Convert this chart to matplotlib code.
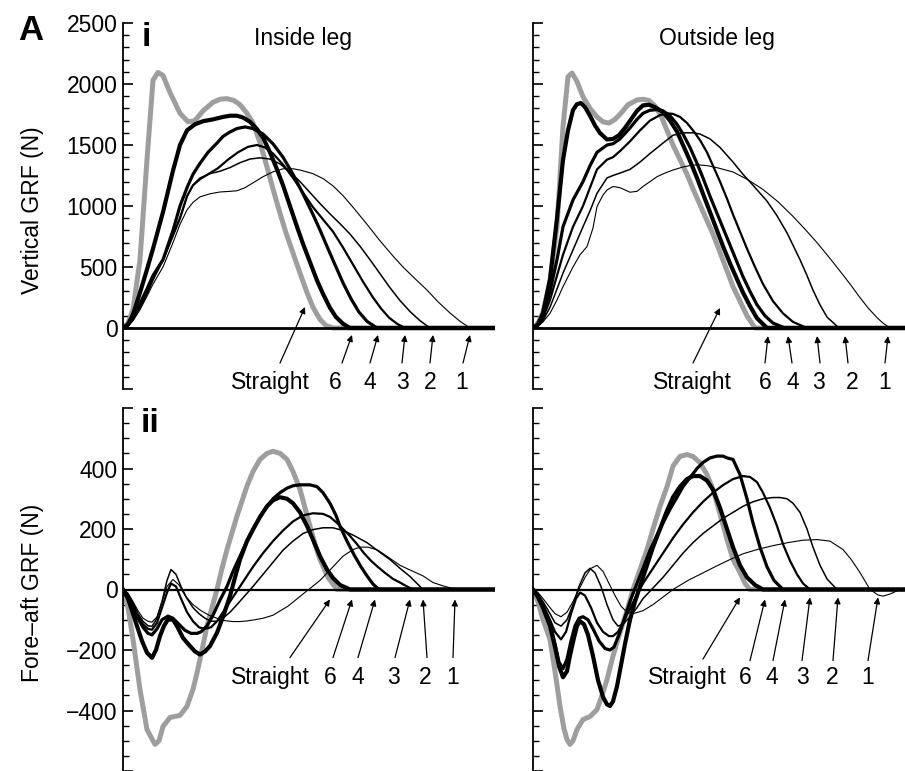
import matplotlib
matplotlib.use("Agg")
import matplotlib.pyplot as plt
from matplotlib.ticker import MultipleLocator, FixedLocator, FixedFormatter

plt.rcParams['font.family'] = ['Liberation Sans', 'DejaVu Sans']

CONDITIONS = ['Straight', '6', '4', '3', '2', '1']

# ---------------- Inside leg, vertical GRF (N) ----------------
t_in_v_straight = [0,5,10,17,24,30,35,40,47,57,65,72,80,90,97,104,111,117,124,130,137,144,150,157,163,170,177,184,190,197,203,210,372]
f_in_v_straight = [0,40,150,560,1380,2030,2095,2070,1930,1760,1690,1700,1780,1850,1875,1880,1865,1830,1760,1680,1520,1320,1140,940,780,615,450,290,170,70,20,0,0]
t_in_v_6 = [0,5,10,17,24,30,40,50,57,64,72,80,90,100,107,114,120,127,134,140,147,154,160,167,174,180,187,194,200,207,213,220,227,372]
f_in_v_6 = [0,30,110,290,480,650,950,1290,1500,1620,1670,1695,1710,1730,1740,1740,1725,1690,1630,1560,1440,1300,1170,1000,830,690,540,390,280,165,90,35,0,0]
t_in_v_4 = [0,5,10,17,24,30,40,50,57,64,70,77,85,94,100,107,114,122,130,140,150,160,170,180,190,197,205,213,220,228,236,244,254,372]
f_in_v_4 = [0,25,90,200,320,430,560,800,1000,1150,1260,1350,1440,1516,1570,1607,1635,1648,1635,1590,1510,1400,1260,1100,930,803,650,500,370,240,130,55,0,0]
t_in_v_3 = [0,5,10,17,24,30,40,50,57,64,70,77,85,95,105,115,125,134,142,150,160,170,180,190,200,210,220,230,240,250,258,266,274,282,372]
f_in_v_3 = [0,20,70,170,285,400,560,760,900,1080,1170,1220,1260,1310,1380,1440,1485,1500,1480,1430,1340,1230,1110,990,890,790,660,520,380,250,160,85,35,0,0]
t_in_v_2 = [0,5,10,17,24,30,40,50,57,64,70,77,87,97,107,117,127,137,147,157,167,177,187,197,207,217,227,237,247,257,267,277,287,297,307,372]
f_in_v_2 = [0,20,70,170,285,400,560,760,900,1080,1170,1230,1265,1285,1315,1355,1385,1395,1385,1345,1280,1200,1110,1020,935,855,770,670,560,445,330,225,135,60,0,0]
t_in_v_1 = [0,5,10,17,24,30,40,50,57,64,70,77,87,97,107,114,122,130,140,150,160,170,177,190,200,210,220,230,244,257,270,280,290,304,315,327,337,347,372]
f_in_v_1 = [0,15,60,150,260,360,500,700,850,967,1030,1075,1100,1115,1120,1125,1150,1190,1240,1280,1305,1305,1295,1265,1225,1165,1085,990,850,715,590,500,420,311,215,123,55,0,0]

# ---------------- Outside leg, vertical GRF (N) ----------------
t_out_v_straight = [0,5,10,17,24,30,35,39,44,50,57,64,70,76,82,88,95,104,110,116,122,128,134,140,147,154,160,167,174,180,187,194,200,207,214,222,372]
f_out_v_straight = [0,40,130,380,830,1650,2060,2090,2020,1895,1800,1730,1690,1680,1710,1760,1830,1869,1875,1865,1820,1740,1620,1500,1380,1260,1140,1010,880,770,620,470,340,220,100,0,0]
t_out_v_6 = [0,5,10,17,24,30,35,40,44,48,52,57,62,67,74,80,86,92,98,104,110,116,122,130,137,144,150,157,164,170,177,184,190,197,204,210,217,224,234,372]
f_out_v_6 = [0,30,120,400,900,1377,1620,1787,1835,1844,1810,1740,1660,1598,1545,1550,1580,1640,1710,1780,1825,1830,1810,1770,1700,1610,1500,1370,1230,1100,950,800,670,530,400,290,180,80,0,0]
t_out_v_4 = [0,5,10,17,24,30,40,50,57,64,74,80,87,97,104,110,117,124,130,137,144,150,157,164,170,177,184,190,197,204,210,217,224,232,240,252,372]
f_out_v_4 = [0,25,100,300,560,830,1050,1200,1330,1440,1500,1510,1550,1640,1710,1760,1785,1790,1780,1740,1670,1590,1480,1350,1230,1080,940,820,680,540,420,300,190,100,40,0,0]
t_out_v_3 = [0,5,10,17,24,30,40,50,57,64,74,80,87,97,107,117,127,134,140,147,154,160,167,174,180,187,194,200,207,214,222,230,240,250,260,274,372]
f_out_v_3 = [0,20,80,230,430,600,830,1000,1150,1300,1380,1400,1450,1530,1620,1700,1745,1760,1755,1730,1680,1620,1540,1440,1330,1200,1060,930,790,650,500,360,220,120,50,0,0]
t_out_v_2 = [0,5,10,17,24,30,40,50,57,64,74,80,87,97,107,117,130,140,150,160,167,177,187,200,210,220,234,244,254,267,274,280,287,294,306,372]
f_out_v_2 = [0,15,60,170,320,450,640,830,960,1104,1230,1250,1270,1300,1360,1430,1516,1580,1600,1600,1590,1550,1480,1360,1260,1170,1040,920,780,560,430,310,190,90,0,0]
t_out_v_1 = [0,5,10,17,24,30,40,47,54,60,64,70,74,80,87,97,104,110,117,124,132,140,150,160,167,175,185,200,215,230,245,260,272,284,298,310,318,326,335,344,350,357,372]
f_out_v_1 = [0,15,50,120,230,339,500,600,667,820,995,1090,1131,1160,1150,1113,1120,1160,1200,1240,1270,1295,1320,1336,1336,1330,1312,1279,1215,1135,1035,915,810,700,560,435,350,260,165,85,40,0,0]

# ---------------- Inside leg, fore-aft GRF (N) ----------------
t_in_h_straight = [0,5,10,17,24,32,36,40,47,57,64,70,74,79,84,89,94,99,104,114,124,130,137,144,150,157,164,170,177,182,187,192,197,205,214,372]
f_in_h_straight = [0,-60,-165,-331,-463,-512,-500,-453,-423,-416,-386,-330,-276,-200,-121,-60,0,70,132,243,342,390,430,450,457,450,430,390,331,270,209,150,99,40,0,0]
t_in_h_6 = [0,5,10,14,19,24,29,33,37,41,45,50,54,60,67,72,77,82,87,94,100,107,112,117,124,130,137,144,150,157,164,170,177,184,190,197,204,210,217,227,372]
f_in_h_6 = [0,-30,-80,-121,-170,-209,-226,-200,-154,-120,-99,-100,-121,-160,-187,-205,-215,-205,-187,-143,-90,-22,40,99,160,198,240,275,295,305,300,285,255,210,165,110,66,38,15,0,0]
t_in_h_4 = [0,5,10,15,20,25,29,34,39,45,50,56,62,68,74,78,84,90,97,104,110,117,124,130,137,144,150,157,164,170,177,187,194,200,207,213,217,224,231,238,244,250,256,372]
f_in_h_4 = [0,-25,-60,-95,-125,-145,-150,-130,-100,-88,-95,-115,-135,-145,-145,-140,-120,-85,-35,10,60,110,160,200,240,275,300,320,335,343,346,346,340,320,285,245,209,160,115,75,45,18,0,0]
t_in_h_3 = [0,5,10,15,20,25,29,34,39,44,48,53,58,64,70,76,82,88,94,100,107,114,122,130,140,150,160,170,180,190,200,207,214,220,227,234,241,248,254,262,270,277,284,290,372]
f_in_h_3 = [0,-20,-50,-85,-115,-130,-133,-110,-60,-10,20,10,-30,-75,-105,-125,-130,-125,-105,-75,-40,-5,35,75,120,160,195,225,245,252,250,240,220,200,177,150,120,95,77,55,35,23,10,0,0]
t_in_h_2 = [0,5,10,15,20,25,29,34,39,44,48,53,58,64,70,76,82,88,94,100,107,114,122,130,140,150,160,170,180,190,200,210,220,230,244,256,267,277,287,300,372]
f_in_h_2 = [0,-15,-45,-80,-105,-120,-122,-95,-40,30,66,50,10,-30,-60,-80,-95,-105,-105,-95,-75,-50,-20,10,50,90,130,160,185,198,204,204,195,180,155,125,99,70,43,0,0]
t_in_h_1 = [0,5,10,15,20,25,29,34,39,44,50,56,62,70,78,86,94,102,110,117,124,132,140,150,165,180,197,210,220,230,237,245,255,266,277,290,300,310,322,334,372]
f_in_h_1 = [0,-12,-40,-70,-95,-105,-108,-90,-40,10,33,15,-20,-50,-70,-85,-95,-103,-106,-106,-104,-100,-95,-85,-55,-15,30,75,110,132,140,140,130,105,80,60,45,23,10,0,0]

# ---------------- Outside leg, fore-aft GRF (N) ----------------
t_out_h_straight = [0,5,10,17,22,27,31,34,37,40,44,50,57,64,69,74,80,87,94,100,107,114,120,127,134,140,147,154,160,167,174,180,187,194,200,207,212,217,372]
f_out_h_straight = [0,-40,-100,-165,-270,-386,-460,-496,-512,-500,-463,-430,-420,-397,-350,-298,-220,-142,-70,0,66,132,200,275,340,408,440,446,440,419,380,331,250,165,100,56,20,0,0]
t_out_h_6 = [0,5,10,17,22,26,30,34,37,41,44,47,51,55,60,65,70,74,77,80,84,88,92,97,102,107,114,120,127,134,140,147,154,160,167,174,180,187,194,200,207,214,222,230,372]
f_out_h_6 = [0,-25,-60,-121,-190,-254,-290,-270,-218,-160,-120,-105,-115,-150,-220,-300,-355,-380,-385,-370,-320,-250,-180,-100,-40,10,80,140,200,260,305,340,365,375,375,360,330,270,200,140,80,40,15,0,0]
t_out_h_4 = [0,5,10,17,22,26,30,34,38,42,46,50,55,60,66,72,77,81,86,92,98,104,110,117,124,130,137,144,150,157,164,170,177,184,190,194,200,207,214,220,227,234,241,250,372]
f_out_h_4 = [0,-25,-60,-110,-180,-240,-262,-230,-170,-120,-95,-90,-100,-130,-170,-195,-200,-190,-150,-90,-30,20,70,130,180,220,265,305,340,370,400,420,435,441,441,435,430,380,300,220,140,75,30,0,0]
t_out_h_3 = [0,5,10,17,22,28,33,38,43,47,52,58,64,70,76,80,85,90,96,102,110,120,130,140,150,160,170,180,190,200,210,217,224,230,237,244,250,257,264,270,277,372]
f_out_h_3 = [0,-20,-50,-100,-140,-165,-140,-80,-30,-10,-20,-60,-110,-140,-154,-154,-140,-110,-70,-30,20,70,120,170,215,255,290,320,345,365,375,372,355,320,270,210,150,95,50,20,0,0]
t_out_h_2 = [0,5,10,17,22,28,34,40,46,52,57,62,68,74,80,85,90,97,104,110,120,130,140,150,160,170,180,190,200,210,220,230,240,247,254,260,267,274,280,287,294,304,372]
f_out_h_2 = [0,-15,-40,-80,-110,-121,-100,-50,10,55,70,55,10,-50,-100,-121,-115,-90,-60,-30,5,40,80,120,155,185,210,235,255,275,290,300,304,304,300,285,255,200,140,80,35,0,0]
t_out_h_1 = [0,5,10,17,22,28,34,40,46,52,58,64,70,76,82,88,94,100,110,120,130,140,155,170,185,197,210,224,240,255,270,284,297,310,318,327,337,345,350,357,365,372]
f_out_h_1 = [0,-10,-30,-60,-80,-90,-75,-40,0,40,70,80,60,20,-20,-55,-75,-80,-70,-50,-25,0,30,55,80,99,118,132,145,155,163,165,160,132,100,56,0,-18,-22,-15,-3,0]

V_TICKS = [0, 500, 1000, 1500, 2000, 2500]
H_TICKS = [-400, -200, 0, 200, 400]

panels = {
    'in_v': [(t_in_v_straight, f_in_v_straight), (t_in_v_6, f_in_v_6), (t_in_v_4, f_in_v_4),
             (t_in_v_3, f_in_v_3), (t_in_v_2, f_in_v_2), (t_in_v_1, f_in_v_1)],
    'out_v': [(t_out_v_straight, f_out_v_straight), (t_out_v_6, f_out_v_6), (t_out_v_4, f_out_v_4),
              (t_out_v_3, f_out_v_3), (t_out_v_2, f_out_v_2), (t_out_v_1, f_out_v_1)],
    'in_h': [(t_in_h_straight, f_in_h_straight), (t_in_h_6, f_in_h_6), (t_in_h_4, f_in_h_4),
             (t_in_h_3, f_in_h_3), (t_in_h_2, f_in_h_2), (t_in_h_1, f_in_h_1)],
    'out_h': [(t_out_h_straight, f_out_h_straight), (t_out_h_6, f_out_h_6), (t_out_h_4, f_out_h_4),
              (t_out_h_3, f_out_h_3), (t_out_h_2, f_out_h_2), (t_out_h_1, f_out_h_1)],
}

colors = ['#9e9e9e', 'black', 'black', 'black', 'black', 'black']
widths = [3.6, 3.0, 2.3, 1.6, 1.1, 0.8]
zorders = [2, 8, 7, 6, 5, 4]

# annotation layout: (head_x, head_y, tail_x, tail_y, label_x) per condition
ann = {
    'in_v': ([(182, 172, 157, -287, 147), (229, -57, 219, -287, 212), (255, -57, 247, -287, 247),
              (282, -57, 279, -287, 279), (310, -57, 307, -287, 307), (347, -57, 340, -287, 339)], -450),
    'out_v': ([(187, 164, 160, -287, 159), (235, -66, 232, -287, 232), (255, -66, 259, -287, 260),
               (284, -66, 287, -287, 285), (312, -66, 315, -287, 319), (355, -66, 352, -287, 352)], -450),
    'in_h': ([(207, -33, 167, -225, 147), (229, -33, 210, -225, 207), (252, -33, 235, -225, 235),
              (287, -33, 272, -225, 270), (300, -33, 304, -225, 302), (332, -33, 330, -225, 330)], -291),
    'out_h': ([(207, -26, 170, -230, 154), (232, -33, 217, -235, 212), (252, -33, 240, -235, 239),
               (277, -26, 269, -235, 269), (305, -26, 300, -235, 299), (345, -26, 335, -235, 335)], -291),
}

W, H = 905, 771
fig = plt.figure(figsize=(W / 100, H / 100), dpi=100)

def px_axes(x0, y0, x1, y1):
    return fig.add_axes([x0 / W, 1 - y1 / H, (x1 - x0) / W, (y1 - y0) / H])

axes = {
    'in_v': px_axes(123, 23, 495, 389),
    'out_v': px_axes(533, 23, 905, 389),
    'in_h': px_axes(123, 408, 495, 771),
    'out_h': px_axes(533, 408, 905, 771),
}

FS = 16.5
for key, ax in axes.items():
    vertical = key.endswith('_v')
    for (t, f), c, lw, z in zip(panels[key], colors, widths, zorders):
        ax.plot(t, f, color=c, lw=lw, zorder=z, solid_capstyle='round', solid_joinstyle='round')
    ax.axhline(0, color='black', lw=2.0 if vertical else 1.6, zorder=3)
    ax.set_xlim(0, 372)
    for s in ['top', 'right', 'bottom']:
        ax.spines[s].set_visible(False)
    ax.spines['left'].set_linewidth(1.3)
    ax.set_xticks([])
    if vertical:
        ax.set_ylim(-500, 2500)
        major = [-500] + V_TICKS
        labels = [''] + [str(v) for v in V_TICKS]
        ax.yaxis.set_minor_locator(MultipleLocator(100))
    else:
        ax.set_ylim(-600, 600)
        major = [-600] + H_TICKS + [600]
        labels = [''] + [('\u2212' + str(-v)) if v < 0 else str(v) for v in H_TICKS] + ['']
        ax.yaxis.set_minor_locator(MultipleLocator(50))
    ax.yaxis.set_major_locator(FixedLocator(major))
    if key.startswith('in'):
        ax.yaxis.set_major_formatter(FixedFormatter(labels))
    else:
        ax.yaxis.set_major_formatter(FixedFormatter([''] * len(major)))
    ax.tick_params(axis='y', which='major', direction='in', length=7, width=1.2, labelsize=FS, pad=4)
    ax.tick_params(axis='y', which='minor', direction='in', length=4, width=1.0)
    ax.patch.set_alpha(0)

    arrows, label_y = ann[key]
    for name, (hx, hy, tx, ty, lx) in zip(CONDITIONS, arrows):
        ax.annotate('', xy=(hx, hy), xytext=(tx, ty),
                    arrowprops=dict(arrowstyle='-|>', color='black', lw=0.9, mutation_scale=9,
                                    shrinkA=0, shrinkB=0), zorder=10)
        ax.text(lx, label_y, name, ha='center', va='center', fontsize=FS, zorder=10)

fig.text(32 / W, 1 - 210 / H, 'Vertical GRF (N)', rotation=90, ha='center', va='center', fontsize=FS)
fig.text(32 / W, 1 - 593 / H, 'Fore\u2013aft GRF (N)', rotation=90, ha='center', va='center', fontsize=FS)
fig.text(303 / W, 1 - 38 / H, 'Inside leg', ha='center', va='center', fontsize=FS)
fig.text(717 / W, 1 - 38 / H, 'Outside leg', ha='center', va='center', fontsize=FS)
fig.text(31 / W, 1 - 30 / H, 'A', ha='center', va='center', fontsize=25, fontweight='bold')
fig.text(146 / W, 1 - 37 / H, 'i', ha='center', va='center', fontsize=24, fontweight='bold')
fig.text(150 / W, 1 - 423 / H, 'ii', ha='center', va='center', fontsize=24, fontweight='bold')

fig.savefig('out.png', dpi=100)
